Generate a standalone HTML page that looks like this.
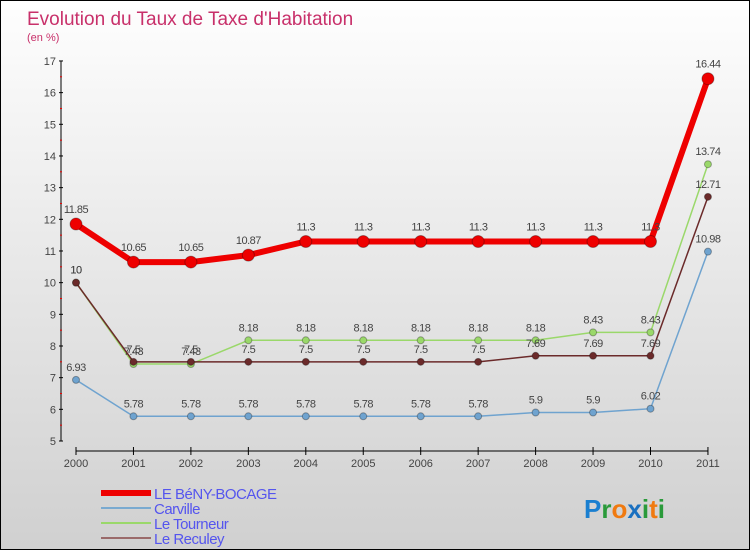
<!DOCTYPE html>
<html><head><meta charset="utf-8"><style>
body{margin:0}
#c{width:748px;height:548px;border:1px solid #000;background:linear-gradient(#fefefe,#d0d0d0);position:relative;overflow:hidden;font-family:"Liberation Sans",sans-serif}
svg text{font-family:"Liberation Sans",sans-serif}
</style></head><body>
<div id="c">
<svg id="s" width="748" height="548"></svg>
</div>
<script>
const years=["2000","2001","2002","2003","2004","2005","2006","2007","2008","2009","2010","2011"];
const beny=[11.85,10.65,10.65,10.87,11.3,11.3,11.3,11.3,11.3,11.3,11.3,16.44];
const carville=[6.93,5.78,5.78,5.78,5.78,5.78,5.78,5.78,5.9,5.9,6.02,10.98];
const tourneur=[10,7.43,7.43,8.18,8.18,8.18,8.18,8.18,8.18,8.43,8.43,13.74];
const reculey=[10,7.5,7.5,7.5,7.5,7.5,7.5,7.5,7.69,7.69,7.69,12.71];
const yTicks=[5,6,7,8,9,10,11,12,13,14,15,16,17];
const NS="http://www.w3.org/2000/svg";
const s=document.getElementById('s');
function X(i){return 75+i*57.45;}
function Y(v){return 440-(v-5)*31.67;}
function el(t,a,p){const e=document.createElementNS(NS,t);for(const k in a)e.setAttribute(k,a[k]);(p||s).appendChild(e);return e;}
function tx(x,y,str,a){const e=el('text',Object.assign({x:x,y:y},a));e.textContent=str;return e;}
let t=tx(26,24,"Evolution du Taux de Taxe d'Habitation",{fill:'#c8306a','font-size':19});

t=tx(26,40,"(en %)",{fill:'#c8306a','font-size':11});

let ax=el('line',{x1:60,y1:Y(17),x2:60,y2:Y(5),stroke:'#000'});

yTicks.forEach(v=>{el('line',{x1:58,x2:62,y1:Y(v),y2:Y(v),stroke:'#000'});
 if(v<17)el('line',{x1:59,x2:61,y1:Y(v+0.5),y2:Y(v+0.5),stroke:'#e00'});
 const l=tx(55,Y(v)+4,String(v),{'text-anchor':'end','font-size':11,fill:'#444'});
 });
ax=el('line',{x1:X(0),y1:450,x2:X(11),y2:450,stroke:'#000'});

years.forEach((y,i)=>{el('line',{x1:X(i),x2:X(i),y1:446,y2:454,stroke:'#000'});
 const l=tx(X(i),466,y,{'text-anchor':'middle','font-size':11,fill:'#444'});
 });
function series(d,col,w,r,name,lab,dy){
 const g=el('g',{});
 el('polyline',{points:d.map((v,i)=>X(i)+','+Y(v)).join(' '),fill:'none',stroke:col,'stroke-width':w},g);
 d.forEach((v,i)=>{const c=el('circle',{cx:X(i),cy:Y(v),r:r,fill:col,stroke:'rgba(0,0,0,0.3)'},g);
  
  const l=tx(X(i),Y(v)+dy,String(v),{'text-anchor':'middle','font-size':11,fill:'#444','letter-spacing':'-0.5'},g);
  });
}
series(carville,'#6fa3cf',1.5,3.5,'carville','',-9);
series(tourneur,'#9ad86a',1.5,3.5,'tourneur','',-9);
series(reculey,'#6b2a2a',1.5,3.5,'reculey','',-9);
series(beny,'#ee0000',6,6,'beny-bocage','',-11);
const leg=[["LE BéNY-BOCAGE",'#ee0000',6],["Carville",'#7aaad0',2],["Le Tourneur",'#9ad86a',2],["Le Reculey",'#9a6a6a',2]];
leg.forEach((L,i)=>{const g=el('g',{});
 const y=492+i*15;el('line',{x1:100,x2:150,y1:y,y2:y,stroke:L[1],'stroke-width':L[2]},g);
 tx(153,y+6,L[0],{'font-size':15,fill:'#5555ee','letter-spacing':'-0.5'},g);});
const lg=el('text',{x:583,y:517,'font-size':26,'font-weight':'bold'});
[["P","#1a7fd0"],["r","#2a9a3a"],["o","#f07a10"],["x","#1a70c0"],["i","#2a9a3a"],["t","#f07a10"],["i","#2a9a3a"]].forEach(p=>{const ts=el('tspan',{fill:p[1]},lg);ts.textContent=p[0];});
</script>
</body></html>
